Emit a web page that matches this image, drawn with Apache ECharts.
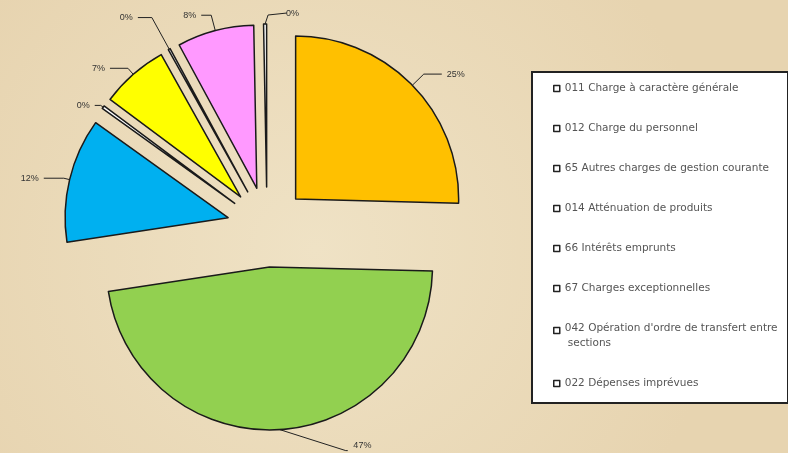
<!DOCTYPE html>
<html>
<head>
<meta charset="utf-8">
<script src="https://cdn.jsdelivr.net/npm/echarts@6/dist/echarts.min.js"></script>
<style>
html,body{margin:0;padding:0;background:#ead9b8;}
#c{width:788px;height:453px;}
</style>
</head>
<body>
<div id="c"></div>
<script>
const categories = [
  "011 Charge à caractère générale",
  "012 Charge du personnel",
  "65 Autres charges de gestion courante",
  "014 Atténuation de produits",
  "66 Intérêts emprunts",
  "67 Charges exceptionnelles",
  "042 Opération d'ordre de transfert entre sections",
  "022 Dépenses imprévues"
];
const values = [25.4, 47.2, 12.3, 0.3, 6.7, 0.2, 7.6, 0.3];
const colors = ["#ffc000", "#92d050", "#00b0f0", "#ffffff", "#ffff00", "#ffffff", "#ff99ff", "#ffffff"];

// label line styling per slice (style only)
const lineStyleBySlice = [
  {length: 16, length2: 18},
  {length: 10, length2: 18},
  {length: 6, length2: 20},
  {length: 3, length2: 6},
  {length: 8, length2: 18},
  {length: 36, length2: 14},
  {length: 16, length2: 10},
  {length: 8, length2: 18}
];

const chart = echarts.init(document.getElementById('c'), null, {renderer: 'canvas'});
const data = categories.map((c, i) => ({
  name: c,
  value: values[i],
  selected: true,
  itemStyle: {color: colors[i]},
  labelLine: lineStyleBySlice[i]
}));
const legendFont = {fontFamily: 'DejaVu Sans', fontSize: 10.5, color: '#555'};
chart.setOption({
  backgroundColor: {
    type: 'radial', x: 0.4, y: 0.55, r: 0.9,
    colorStops: [{offset: 0, color: '#efe2c5'}, {offset: 1, color: '#e7d4b0'}]
  },
  animation: false,
  graphic: [{
    type: 'rect', left: 531, top: 71, z: 0,
    shape: {width: 256, height: 331},
    style: {fill: '#ffffff', stroke: '#222', lineWidth: 2}
  }],
  legend: {
    orient: 'vertical', left: 548, top: 78,
    itemWidth: 6, itemHeight: 6, itemGap: 29,
    icon: 'rect',
    itemStyle: {color: '#ffffff', borderColor: '#222', borderWidth: 1.5},
    textStyle: Object.assign({
      rich: {
        a: Object.assign({lineHeight: 12}, legendFont),
        b: Object.assign({lineHeight: 4, height: 4, verticalAlign: 'top', padding: [7, 0, 0, 3]}, legendFont)
      }
    }, legendFont),
    formatter: n => {
      const k = n.indexOf(' sections');
      if (k > 0) return '{a|' + n.slice(0, k) + '}\n{b|' + n.slice(k + 1) + '}';
      return '{a|' + n + '}';
    },
    selectedMode: false,
    z: 5
  },
  series: [{
    type: 'pie',
    center: [267, 227],
    radius: [0, 163],
    startAngle: 90,
    clockwise: true,
    selectedMode: 'multiple',
    selectedOffset: 40,
    minShowLabelAngle: 0,
    avoidLabelOverlap: false,
    data: data,
    itemStyle: {borderColor: '#1a1a1a', borderWidth: 1.5},
    emphasis: {disabled: true},
    label: {
      position: 'outside',
      formatter: p => Math.round(p.value) + '%',
      fontFamily: 'Liberation Sans, Arial', fontSize: 9, color: '#333'
    },
    labelLine: {
      show: true, length: 14, length2: 18,
      lineStyle: {color: '#222', width: 1}
    },
    labelLayout: function (p) {
      const pts = p.labelLinePoints;
      if (!pts) return {};
      const a = pts[0];
      if (p.dataIndex === 7) {
        return {
          dx: 44, dy: -2, align: 'left',
          labelLinePoints: [a, [a[0] + 3, a[1] - 9], [a[0] + 22, a[1] - 11]]
        };
      }
      if (p.dataIndex === 1) {
        return {
          dx: 50, dy: 6,
          labelLinePoints: [a, [a[0] + 66, a[1] + 21], [a[0] + 68, a[1] + 21]]
        };
      }
      return {};
    }
  }]
});
</script>
</body>
</html>
